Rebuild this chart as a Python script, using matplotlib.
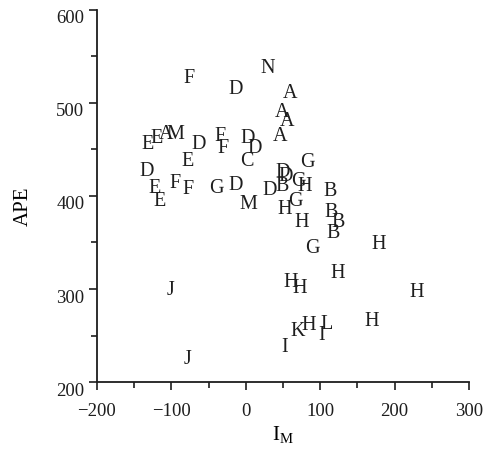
import matplotlib
matplotlib.use("Agg")
import matplotlib.pyplot as plt
from matplotlib.ticker import MultipleLocator
from matplotlib.transforms import ScaledTranslation

plt.rcParams['font.family'] = ['Liberation Serif', 'DejaVu Serif']

labels = ["N", "F", "D", "A", "A", "A", "A", "E", "E", "A", "M", "D", "F", "F", "D", "D",
          "E", "C", "G", "D", "D", "D", "G", "H", "B", "D", "E", "F", "F", "G", "D", "E",
          "M", "B", "G", "H", "B", "H", "B", "B", "G", "H", "H", "H", "H", "J", "H", "H",
          "H", "L", "K", "I", "I", "J"]
im_vals = [29, -76, -13, 59, 49, 56, 46, -132, -120, -107, -95, -63, -35, -30, 2, 12,
           -78, 1, 83, -133, 49, 54, 71, 79, 49, 32, -123, -95, -78, -40, -13, -116,
           3, 114, 67, 52, 115, 75, 124, 117, 89, 179, 124, 60, 72, -101, 230, 169,
           85, 109, 70, 102, 52, -78]
ape_vals = [537, 526, 514, 510, 490, 480, 464, 455, 462, 466, 466, 455, 464, 451, 462, 451,
            437, 437, 436, 426, 425, 421, 416, 410, 410, 406, 408, 413, 407, 408, 411, 394,
            391, 405, 394, 385, 382, 372, 371, 360, 344, 348, 317, 307, 301, 298, 296, 265,
            261, 262, 254, 250, 237, 224]
x_ticks = [-200, -100, 0, 100, 200, 300]
x_ticklabels = ["\u2212200", "\u2212100", "0", "100", "200", "300"]
y_ticks = [200, 300, 400, 500, 600]
y_ticklabels = ["200", "300", "400", "500", "600"]

fig = plt.figure(figsize=(4.87, 4.5), dpi=100)
ax = fig.add_axes([0.199, 0.151, 0.764, 0.827])
ax.set_xlim(-200, 300)
ax.set_ylim(200, 600)

for lab, xv, yv in zip(labels, im_vals, ape_vals):
    ax.text(xv, yv, lab, ha='center', va='center', fontsize=14.5, color='#1e1e1e')

for s in ['top', 'right']:
    ax.spines[s].set_visible(False)
for s in ['left', 'bottom']:
    ax.spines[s].set_linewidth(1.3)
    ax.spines[s].set_color('#1e1e1e')

ax.xaxis.set_minor_locator(MultipleLocator(50))
ax.yaxis.set_minor_locator(MultipleLocator(50))
ax.set_xticks(x_ticks)
ax.set_xticklabels(x_ticklabels)
ax.set_yticks(y_ticks)
ax.set_yticklabels(y_ticklabels)
ax.tick_params(axis='both', which='major', direction='out', length=6, width=1.2,
               labelsize=13.5, colors='#1e1e1e')
ax.tick_params(axis='x', which='major', pad=9)
ax.tick_params(axis='y', which='major', pad=3)
ax.tick_params(axis='both', which='minor', direction='out', length=4, width=1.2,
               colors='#1e1e1e')

offset = ScaledTranslation(0, -7 / 100, fig.dpi_scale_trans)
for t in ax.get_yticklabels():
    t.set_transform(t.get_transform() + offset)

ax.set_xlabel("I$_\\mathregular{M}$", fontsize=15, labelpad=3)
ax.set_ylabel("APE", fontsize=15)
ax.yaxis.set_label_coords(-0.172, 0.473)

fig.savefig("out.png", dpi=100)
